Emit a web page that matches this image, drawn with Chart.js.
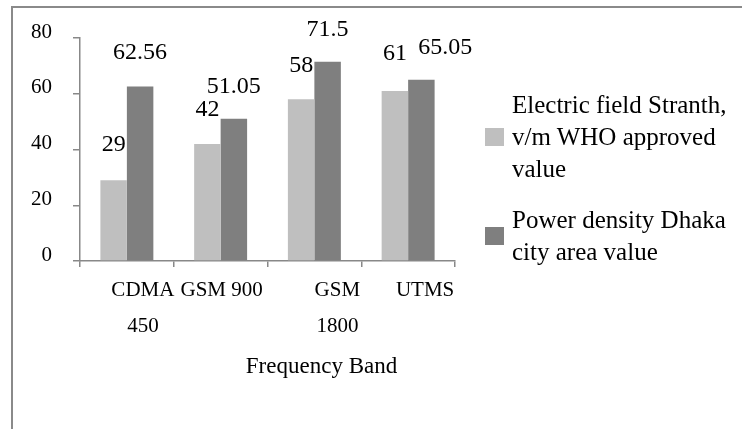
<!DOCTYPE html>
<html>
<head>
<meta charset="utf-8">
<script src="https://cdn.jsdelivr.net/npm/chart.js@4/dist/chart.umd.min.js"></script>
<style>
  html, body { margin: 0; padding: 0; background: #fff; }
  #wrap { position: relative; width: 742px; height: 429px; overflow: hidden; }
  #frame {
    position: absolute; left: 11px; top: 6px; right: -10px; bottom: -10px;
    border-top: 2px solid #8a8a8a; border-left: 2px solid #8a8a8a;
  }
  #chart { position: absolute; left: 0; top: 0; }
  #legend {
    position: absolute; left: 485px; top: 89px;
    font-family: "Liberation Serif", serif; font-size: 25px; line-height: 32px; color: #000;
  }
  .item { display: flex; align-items: center; margin-bottom: 19px; }
  .swatch { width: 19px; height: 18px; flex: none; margin-right: 8px; }
  .text { width: 236px; }
</style>
</head>
<body>
<div id="wrap">
  <div id="frame"></div>
  <canvas id="chart" width="742" height="429"></canvas>
  <div id="legend"></div>
</div>
<script>
// Frequency bands (each entry is the list of lines shown under the axis)
const categories = [["CDMA", "450"], ["GSM 900"], ["GSM", "1800"], ["UTMS"]];
// Series
const fieldStrength = [29, 42, 58, 61];
const powerDensity = [62.56, 51.05, 71.5, 65.05];
const seriesNames = [
  "Electric field Stranth, v/m WHO approved value",
  "Power density Dhaka city area value"
];
const yTicks = [0, 20, 40, 60, 80];
const axisTitle = "Frequency Band";

// Placement tweaks for the hand-placed texts
const bandLabelShift = [16, 1, 23, 17];
const valueLift = [[35, 34, 34, 37], [34, 32, 32, 32]];
const valueShift = [[0, 0, 0, 0], [0, 0, 0, 24]];

const SERIF = '"Liberation Serif", serif';
const AXIS_GRAY = '#888888';

const valueLabels = {
  id: 'valueLabels',
  afterDatasetsDraw(chart) {
    const ctx = chart.ctx;
    ctx.save();
    ctx.font = '24px ' + SERIF;
    ctx.fillStyle = '#000';
    ctx.textAlign = 'center';
    ctx.textBaseline = 'middle';
    chart.data.datasets.forEach((ds, di) => {
      chart.getDatasetMeta(di).data.forEach((bar, i) => {
        ctx.fillText(String(ds.data[i]), bar.x + valueShift[di][i], bar.y - valueLift[di][i]);
      });
    });
    ctx.restore();
  }
};

const bandLabels = {
  id: 'bandLabels',
  afterDraw(chart) {
    const ctx = chart.ctx;
    const xs = chart.scales.x;
    const area = chart.chartArea;
    ctx.save();
    ctx.fillStyle = '#000';
    ctx.textAlign = 'center';
    ctx.textBaseline = 'middle';
    ctx.font = '21px ' + SERIF;
    categories.forEach((lines, i) => {
      const x = xs.getPixelForValue(i) + bandLabelShift[i];
      lines.forEach((line, li) => ctx.fillText(line, x, area.bottom + 29 + li * 36));
    });
    ctx.font = '23px ' + SERIF;
    ctx.fillText(axisTitle, (area.left + area.right) / 2 + 54, area.bottom + 106);
    ctx.restore();
  }
};

const chart = new Chart(document.getElementById('chart'), {
  type: 'bar',
  data: {
    labels: categories,
    datasets: [
      { label: seriesNames[0], data: fieldStrength, backgroundColor: '#bfbfbf' },
      { label: seriesNames[1], data: powerDensity, backgroundColor: '#7f7f7f' }
    ]
  },
  options: {
    responsive: false,
    devicePixelRatio: 1,
    animation: false,
    layout: { padding: { left: 0, top: 38, right: 287, bottom: 0 } },
    datasets: { bar: { categoryPercentage: 0.565, barPercentage: 1.0 } },
    plugins: { legend: { display: false }, tooltip: { enabled: false } },
    scales: {
      x: {
        ticks: { display: false },
        grid: { drawOnChartArea: false, drawTicks: true, tickLength: 6, color: AXIS_GRAY, lineWidth: 1.5, offset: true },
        border: { color: AXIS_GRAY, width: 1.5 },
        afterFit(scale) { scale.height = 168; }
      },
      y: {
        min: 0, max: 80,
        afterBuildTicks(scale) { scale.ticks = yTicks.map(v => ({ value: v })); },
        ticks: {
          color: '#000', padding: 21, labelOffset: -6,
          font: { family: SERIF, size: 21 }
        },
        grid: { drawOnChartArea: false, drawTicks: true, tickLength: 7, color: AXIS_GRAY, lineWidth: 1.5 },
        border: { color: AXIS_GRAY, width: 1.5 },
        afterFit(scale) { scale.width = 80; }
      }
    }
  },
  plugins: [valueLabels, bandLabels]
});

// Legend built from the chart's own datasets
const legend = document.getElementById('legend');
chart.data.datasets.forEach(ds => {
  const item = document.createElement('div');
  item.className = 'item';
  const sw = document.createElement('div');
  sw.className = 'swatch';
  sw.style.background = ds.backgroundColor;
  const tx = document.createElement('div');
  tx.className = 'text';
  tx.textContent = ds.label;
  item.appendChild(sw);
  item.appendChild(tx);
  legend.appendChild(item);
});
</script>
</body>
</html>
